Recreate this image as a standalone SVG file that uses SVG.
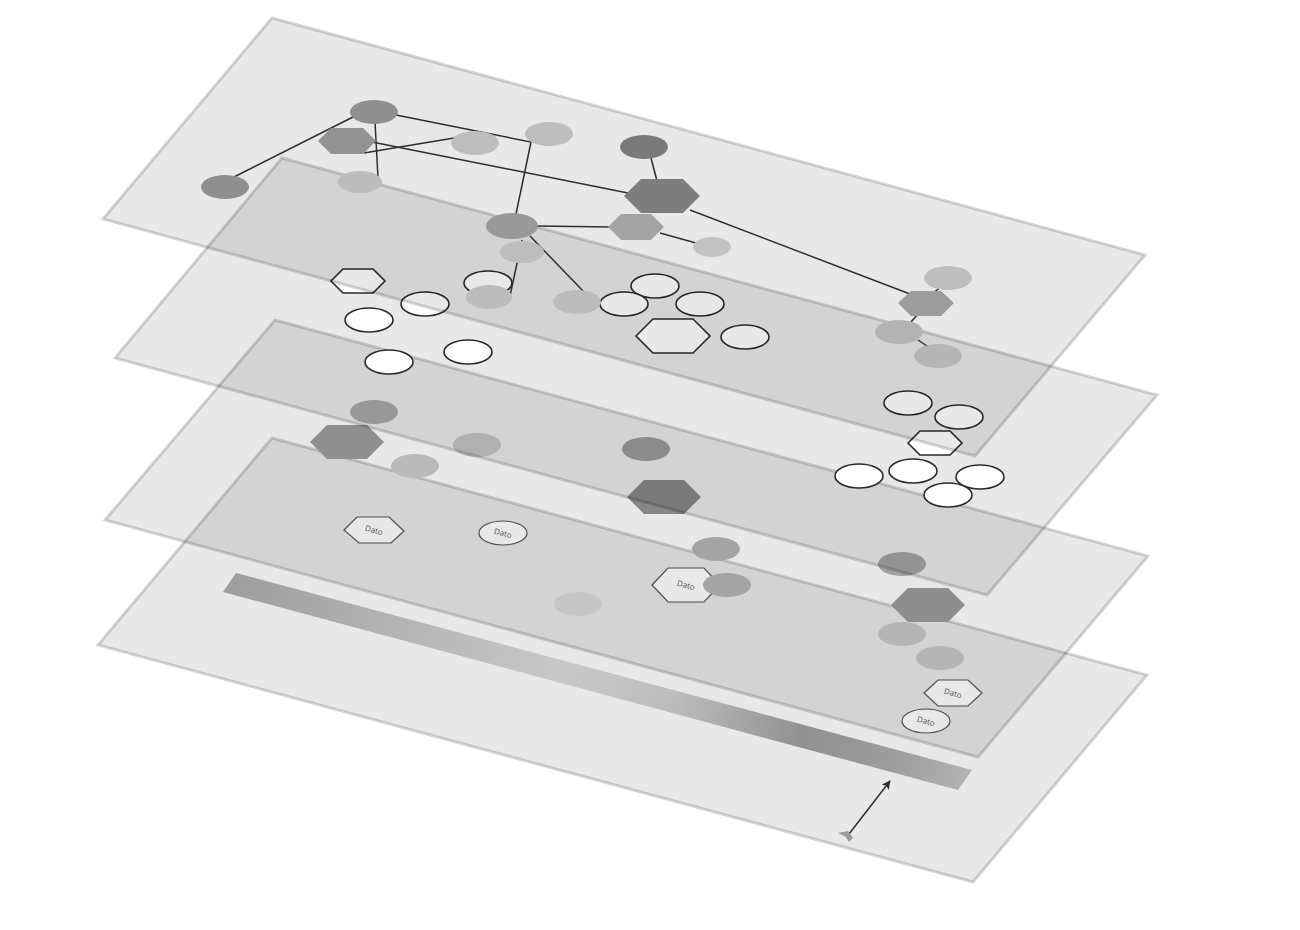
<svg xmlns="http://www.w3.org/2000/svg" width="1300" height="930" viewBox="0 0 1300 930">
<defs>
<style>
.plane{fill:#000;fill-opacity:0.09;stroke:#000;stroke-opacity:0.16;stroke-width:3;stroke-linejoin:miter}
.wn{fill:#fff;stroke:#2a2a2a;stroke-width:1.6}
.dn{fill:#fff;stroke:#555;stroke-width:1.2}
.dt{font-family:"Open Sans","DejaVu Sans",sans-serif;font-size:8px;fill:#555;text-anchor:middle}
.ln{stroke:#2e2e2e;stroke-width:1.5;fill:none}
</style>
<linearGradient id="bar" gradientUnits="userSpaceOnUse" x1="230" y1="582" x2="965" y2="780">
<stop offset="0" stop-color="#9d9d9d"/>
<stop offset="0.25" stop-color="#b6b6b6"/>
<stop offset="0.45" stop-color="#c8c8c8"/>
<stop offset="0.6" stop-color="#bdbdbd"/>
<stop offset="0.78" stop-color="#919191"/>
<stop offset="0.9" stop-color="#9c9c9c"/>
<stop offset="1" stop-color="#b2b2b2"/>
</linearGradient>
<marker id="ah" viewBox="0 0 10 10" refX="9" refY="5" markerWidth="9" markerHeight="9" markerUnits="userSpaceOnUse" orient="auto">
<path d="M0,0 L10,5 L0,10 L2.5,5 Z" fill="#2e2e2e"/>
</marker>
</defs>
<rect width="1300" height="930" fill="#fff"/>

<!-- Plane 4 (bottom) -->
<g id="plane4">
<polygon class="plane" points="272,438 1147,675 973,882 98,645"/>
<polygon points="236,573 972,770 958,790 223,592" fill="url(#bar)"/>
<g id="arrow">
<line x1="849" y1="834" x2="890" y2="781" class="ln" marker-end="url(#ah)"/>
<path d="M838,833 L848,831 L853,838 L849,842 L846,837 Z" fill="#9a9a9a"/>
</g>
</g>
<g id="dato1"><polygon class="dn" points="344,530 357,517 389,517 404,531 391,543 359,543"/><text class="dt" x="374" y="533" transform="rotate(15 374 530)">Dato</text></g>
<g id="dato2"><ellipse class="dn" cx="503" cy="533" rx="24" ry="12"/><text class="dt" x="503" y="536" transform="rotate(15 503 533)">Dato</text></g>
<g id="dato3"><polygon class="dn" points="652,585 668,568 704,568 720,585 704,602 668,602"/><text class="dt" x="686" y="588" transform="rotate(15 686 585)">Dato</text></g>
<g id="dato4"><polygon class="dn" points="924,693 938,680 968,680 982,693 968,706 938,706"/><text class="dt" x="953" y="696" transform="rotate(15 953 693)">Dato</text></g>
<g id="dato5"><ellipse class="dn" cx="926" cy="721" rx="24" ry="12"/><text class="dt" x="926" y="724" transform="rotate(15 926 721)">Dato</text></g>
<g id="n4a"><ellipse cx="578" cy="604" rx="24" ry="12" fill="#dadada"/></g>

<!-- Plane 3 -->
<g id="plane3"><polygon class="plane" points="275,320 1148,556 978,757 105,520"/></g>
<g id="n3a"><ellipse cx="374" cy="412" rx="24" ry="12" fill="#a8a8a8"/></g>
<g id="n3b"><polygon points="310,442 327,425 367,425 384,442 367,459 327,459" fill="#8f8f8f"/></g>
<g id="n3c"><ellipse cx="477" cy="445" rx="24" ry="12" fill="#c2c2c2"/></g>
<g id="n3d"><ellipse cx="415" cy="466" rx="24" ry="12" fill="#bababa"/></g>
<g id="n3e"><ellipse cx="646" cy="449" rx="24" ry="12" fill="#999"/></g>
<g id="n3f"><polygon points="627,497 644,480 684,480 701,497 684,514 644,514" fill="#878787"/></g>
<g id="n3g"><ellipse cx="716" cy="549" rx="24" ry="12" fill="#a4a4a4"/></g>
<g id="n3h"><ellipse cx="727" cy="585" rx="24" ry="12" fill="#a4a4a4"/></g>
<g id="n3i"><ellipse cx="902" cy="564" rx="24" ry="12" fill="#a2a2a2"/></g>
<g id="n3j"><polygon points="891,605 908,588 948,588 965,605 948,622 908,622" fill="#8e8e8e"/></g>
<g id="n3k"><ellipse cx="902" cy="634" rx="24" ry="12" fill="#b5b5b5"/></g>
<g id="n3l"><ellipse cx="940" cy="658" rx="24" ry="12" fill="#b5b5b5"/></g>

<!-- Plane 2 -->
<g id="plane2"><polygon class="plane" points="282,158 1157,395 987,595 115,358"/></g>
<g id="w1"><polygon class="wn" points="331,281 343,269 373,269 385,281 373,293 343,293"/></g>
<g id="w2"><ellipse class="wn" cx="488" cy="283" rx="24" ry="12"/></g>
<g id="w3"><ellipse class="wn" cx="425" cy="304" rx="24" ry="12"/></g>
<g id="w4"><ellipse class="wn" cx="369" cy="320" rx="24" ry="12"/></g>
<g id="w5"><ellipse class="wn" cx="389" cy="362" rx="24" ry="12"/></g>
<g id="w6"><ellipse class="wn" cx="468" cy="352" rx="24" ry="12"/></g>
<g id="w7"><ellipse class="wn" cx="655" cy="286" rx="24" ry="12"/></g>
<g id="w8"><ellipse class="wn" cx="624" cy="304" rx="24" ry="12"/></g>
<g id="w9"><ellipse class="wn" cx="700" cy="304" rx="24" ry="12"/></g>
<g id="w10"><polygon class="wn" points="636,336 653,319 693,319 710,336 693,353 653,353"/></g>
<g id="w11"><ellipse class="wn" cx="745" cy="337" rx="24" ry="12"/></g>
<g id="w12"><ellipse class="wn" cx="908" cy="403" rx="24" ry="12"/></g>
<g id="w13"><ellipse class="wn" cx="959" cy="417" rx="24" ry="12"/></g>
<g id="w14"><polygon class="wn" points="908,443 920,431 950,431 962,443 950,455 920,455"/></g>
<g id="w15"><ellipse class="wn" cx="859" cy="476" rx="24" ry="12"/></g>
<g id="w16"><ellipse class="wn" cx="913" cy="471" rx="24" ry="12"/></g>
<g id="w17"><ellipse class="wn" cx="980" cy="477" rx="24" ry="12"/></g>
<g id="w18"><ellipse class="wn" cx="948" cy="495" rx="24" ry="12"/></g>

<!-- Plane 1 (top) -->
<g id="plane1"><polygon class="plane" points="272,18 1145,255 975,456 103,219"/></g>
<g id="connectors">
<line class="ln" x1="355" y1="116" x2="232" y2="178"/>
<polyline class="ln" points="396,115 531,142 516,214"/>
<line class="ln" x1="375" y1="122" x2="378" y2="178"/>
<line class="ln" x1="372" y1="142" x2="628" y2="193"/>
<line class="ln" x1="364" y1="153" x2="454" y2="138"/>
<line class="ln" x1="651" y1="158" x2="657" y2="181"/>
<line class="ln" x1="690" y1="210" x2="910" y2="294"/>
<line class="ln" x1="537" y1="226" x2="612" y2="227"/>
<line class="ln" x1="660" y1="233" x2="696" y2="243"/>
<line class="ln" x1="530" y1="236" x2="584" y2="292"/>
<line class="ln" x1="522" y1="240" x2="510" y2="296"/>
<line class="ln" x1="933" y1="293" x2="941" y2="287"/>
<line class="ln" x1="918" y1="314" x2="911" y2="322"/>
<line class="ln" x1="918" y1="340" x2="930" y2="348"/>
</g>
<g id="n1a"><ellipse cx="374" cy="112" rx="24" ry="12" fill="#8f8f8f"/></g>
<g id="n1b"><polygon points="318,141 331,128 363,128 376,141 363,154 331,154" fill="#939393"/></g>
<g id="n1c"><ellipse cx="475" cy="143" rx="24" ry="12" fill="#bdbdbd"/></g>
<g id="n1d"><ellipse cx="549" cy="134" rx="24" ry="12" fill="#bdbdbd"/></g>
<g id="n1e"><ellipse cx="644" cy="147" rx="24" ry="12" fill="#7b7b7b"/></g>
<g id="n1f"><polygon points="624,196 641,179 683,179 700,196 683,213 641,213" fill="#7d7d7d"/></g>
<g id="n1g"><ellipse cx="225" cy="187" rx="24" ry="12" fill="#8f8f8f"/></g>
<g id="n1h"><ellipse cx="360" cy="182" rx="22" ry="11" fill="#bcbcbc"/></g>
<g id="n1i"><ellipse cx="512" cy="226" rx="26" ry="13" fill="#999"/></g>
<g id="n1j"><polygon points="608,227 621,214 651,214 664,227 651,240 621,240" fill="#a3a3a3"/></g>
<g id="n1k"><ellipse cx="522" cy="252" rx="22" ry="11" fill="#bdbdbd"/></g>
<g id="n1l"><ellipse cx="712" cy="247" rx="19" ry="10" fill="#c2c2c2"/></g>
<g id="n1m"><ellipse cx="489" cy="297" rx="23" ry="12" fill="#bcbcbc"/></g>
<g id="n1n"><ellipse cx="577" cy="302" rx="24" ry="12" fill="#bcbcbc"/></g>
<g id="n1o"><ellipse cx="948" cy="278" rx="24" ry="12" fill="#bdbdbd"/></g>
<g id="n1p"><polygon points="898,303 911,291 941,291 954,303 941,316 911,316" fill="#9c9c9c"/></g>
<g id="n1q"><ellipse cx="899" cy="332" rx="24" ry="12" fill="#b3b3b3"/></g>
<g id="n1r"><ellipse cx="938" cy="356" rx="24" ry="12" fill="#b5b5b5"/></g>
</svg>
